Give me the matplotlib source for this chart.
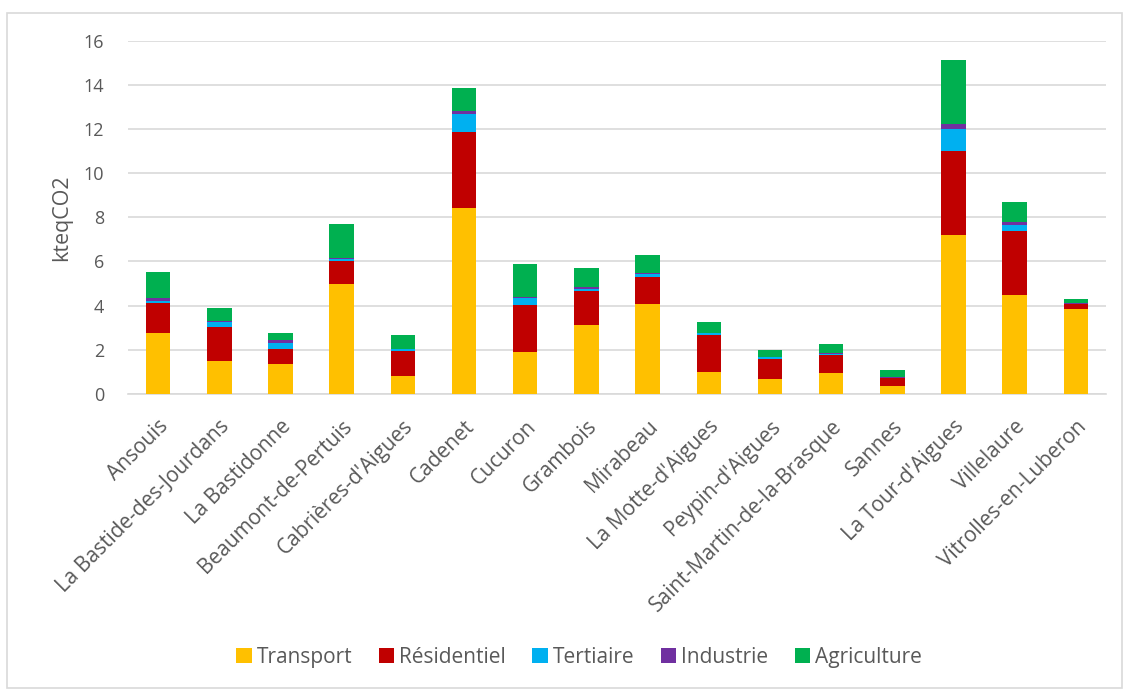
# stacked emissions by commune and sector
import numpy as np
import matplotlib
matplotlib.use('Agg')
from matplotlib import pyplot as plt
from matplotlib.patches import Rectangle

communes = ['Ansouis', 'La Bastide-des-Jourdans', 'La Bastidonne', 'Beaumont-de-Pertuis',
            "Cabrières-d'Aigues", 'Cadenet', 'Cucuron', 'Grambois', 'Mirabeau',
            "La Motte-d'Aigues", "Peypin-d'Aigues", 'Saint-Martin-de-la-Brasque', 'Sannes',
            "La Tour-d'Aigues", 'Villelaure', 'Vitrolles-en-Luberon']

transport = [2.76, 1.51, 1.34, 4.97, 0.80, 8.43, 1.89, 3.14, 4.08, 1.01, 0.68, 0.93, 0.37, 7.20, 4.49, 3.86]
residentiel = [1.34, 1.54, 0.68, 1.04, 1.12, 3.45, 2.13, 1.51, 1.20, 1.65, 0.91, 0.84, 0.33, 3.81, 2.88, 0.20]
tertiaire = [0.13, 0.20, 0.30, 0.12, 0.10, 0.81, 0.33, 0.12, 0.17, 0.10, 0.06, 0.05, 0.04, 1.01, 0.29, 0.03]
industrie = [0.10, 0.03, 0.11, 0.02, 0.03, 0.12, 0.05, 0.06, 0.03, 0.02, 0.01, 0.02, 0.04, 0.20, 0.13, 0.02]
agriculture = [1.21, 0.63, 0.35, 1.54, 0.62, 1.06, 1.50, 0.89, 0.79, 0.48, 0.32, 0.41, 0.32, 2.90, 0.92, 0.19]

sectors = ['Transport', 'Résidentiel', 'Tertiaire', 'Industrie', 'Agriculture']
series = [transport, residentiel, tertiaire, industrie, agriculture]
colors = ['#FFC000', '#C00000', '#00B0F0', '#7030A0', '#00B050']

plt.rcParams['font.family'] = ['Open Sans', 'DejaVu Sans']
txt = '#595959'

fig = plt.figure(figsize=(11.29, 6.91), dpi=100)
ax = fig.add_axes([0.113, 0.430, 0.867, 0.511])

x = np.arange(len(communes))
bottom = np.zeros(len(communes))
for name, vals, col in zip(sectors, series, colors):
    vals = np.array(vals)
    ax.bar(x, vals, 0.4, bottom=bottom, color=col, label=name, zorder=3)
    bottom += vals

ax.set_xlim(-0.5, len(communes) - 0.5)
ax.set_ylim(0, 16)
ax.set_yticks(np.arange(0, 17, 2))
ax.yaxis.grid(True, color='#d9d9d9', linewidth=1.2, zorder=0)
for s in ['top', 'right', 'left']:
    ax.spines[s].set_visible(False)
ax.spines['bottom'].set_color('#d9d9d9')
ax.spines['bottom'].set_linewidth(1.2)
ax.tick_params(axis='y', length=0, colors=txt, labelsize=13, pad=17)
ax.tick_params(axis='x', length=0, colors=txt, labelsize=15, pad=16)
ax.set_xticks(x)
ax.set_xticklabels(communes, rotation=45, ha='right', rotation_mode='anchor')
ax.set_ylabel('kteqCO2', fontsize=15.5, color=txt, labelpad=8)

fig.legend(loc='center', bbox_to_anchor=(0.513, 0.049), ncol=5, frameon=False,
           fontsize=15, handlelength=0.75, handleheight=0.75, handletextpad=0.25,
           columnspacing=1.25, labelcolor=txt)

# light frame round the whole chart
fig.patches.append(Rectangle((0.006, 0.005), 0.988, 0.976, transform=fig.transFigure,
                             fill=False, edgecolor='#d9d9d9', linewidth=1.2))

fig.savefig('out.png', dpi=100)
